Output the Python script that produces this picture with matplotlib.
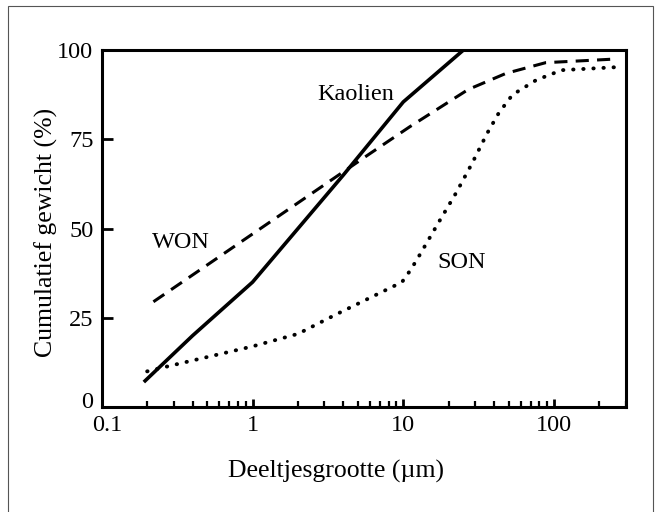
import matplotlib.pyplot as plt
from matplotlib.patches import Rectangle
from matplotlib.transforms import ScaledTranslation

# particle size (um) vs cumulative weight (%)
kaolien_x = [0.19, 0.4, 1, 4, 10, 25, 70]
kaolien_y = [7, 20, 35, 65, 85.5, 100, 100]

won_x = [0.22, 1, 6, 11, 27, 48, 88, 250]
won_y = [29.5, 48.5, 71, 78.5, 89, 93.5, 96.5, 97.5]

son_x = [0.2, 0.28, 1, 2, 3.6, 9.8, 11, 12.2, 17.3, 22.4, 28.6, 36, 43, 53, 76, 112, 250]
son_y = [10, 11.5, 17, 20.5, 26, 35, 38, 41, 52, 60, 68.3, 76.7, 82.4, 87.5, 91.6, 94.4, 95.2]

yticks = [0, 25, 50, 75, 100]
xticks = [0.1, 1, 10, 100]
xticklabels = ["0.1", "1", "10", "100"]

plt.rcParams['font.family'] = ['Liberation Serif', 'DejaVu Serif']

fig = plt.figure(figsize=(6.61, 5.12), dpi=100)
ax = fig.add_axes([0.154, 0.205, 0.793, 0.697])

ax.plot(kaolien_x, kaolien_y, color="black", lw=2.6, solid_capstyle="butt")
ax.plot(won_x, won_y, color="black", lw=2.2, dashes=(4.3, 2.7))
ax.plot(son_x, son_y, color="black", lw=2.8, dashes=(0.1, 2.5), dash_capstyle="round")

ax.text(2.69, 87.5, "Kaolien", fontsize=17.5, va="center", ha="left")
ax.text(0.214, 46, "WON", fontsize=17.5, va="center", ha="left")
ax.text(16.8, 40.5, "SON", fontsize=17.5, va="center", ha="left")

ax.set_xscale("log")
ax.set_xlim(0.1, 300)
ax.set_ylim(0, 100)
ax.set_xticks(xticks)
ax.set_xticklabels(xticklabels)
ax.set_yticks(yticks)

for s in ax.spines.values():
    s.set_linewidth(2.2)

ax.tick_params(axis="both", which="both", direction="in", labelsize=17.5)
ax.tick_params(axis="y", length=8, width=2, pad=6)
ax.tick_params(axis="x", which="major", length=6, width=2, pad=6)
ax.tick_params(axis="x", which="minor", length=4, width=1.6)

# nudge the corner labels apart
fig.canvas.draw()
ax.get_yticklabels()[0].set_transform(
    ax.get_yticklabels()[0].get_transform() + ScaledTranslation(0, 7 / 100, fig.dpi_scale_trans))
ax.get_xticklabels()[0].set_transform(
    ax.get_xticklabels()[0].get_transform() + ScaledTranslation(5 / 100, 0, fig.dpi_scale_trans))

ax.set_xlabel("Deeltjesgrootte (\u00b5m)", fontsize=18.5)
ax.xaxis.set_label_coords(0.447, -0.148)
ax.set_ylabel("Cumulatief gewicht (%)", fontsize=18.5)
ax.yaxis.label.set_verticalalignment("center")
ax.yaxis.set_label_coords(-0.105, 0.49)

# thin frame around the figure
fig.add_artist(Rectangle((0.012, -0.05), 0.976, 1.038, transform=fig.transFigure,
                         fill=False, edgecolor="#555555", lw=0.8))

fig.savefig("out.png", dpi=100)
